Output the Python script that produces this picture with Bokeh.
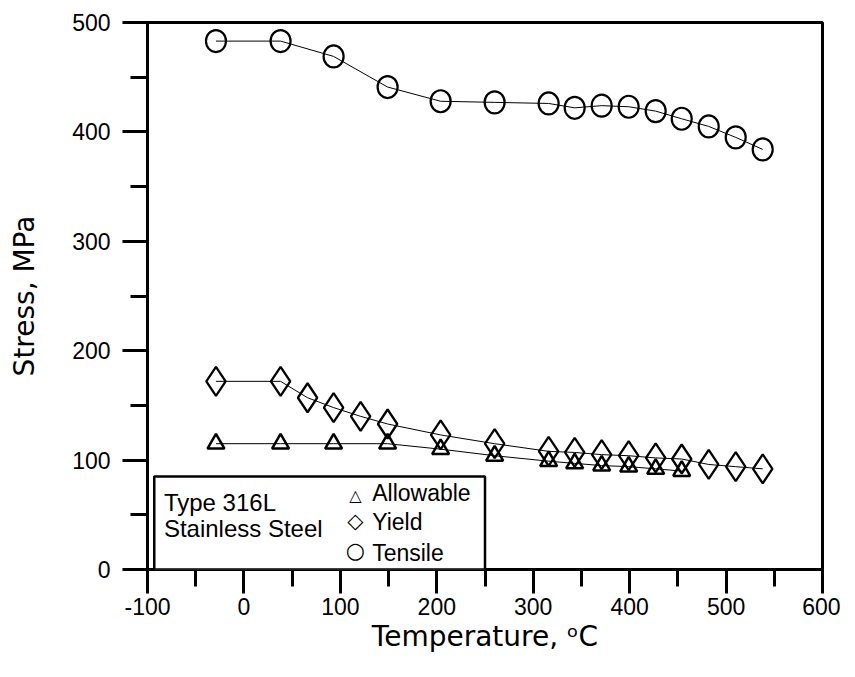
from bokeh.plotting import figure
from bokeh.models import Range1d, SingleIntervalTicker, BoxAnnotation, Label, CustomJSTickFormatter
from bokeh.embed import file_html
from bokeh.resources import INLINE

# ---- data ----
temp_tensile = [-29, 38, 93, 149, 204, 260, 316, 343, 371, 399, 427, 454, 482, 510, 538]
tensile = [483, 483, 469, 441, 428, 427, 426, 422, 424, 423, 419, 412, 405, 395, 384]

temp_yield = [-29, 38, 66, 93, 121, 149, 204, 260, 316, 343, 371, 399, 427, 454, 482, 510, 538]
yield_strength = [172, 172, 157, 148, 140, 133, 123, 115, 108, 107, 105, 104, 102, 101, 96, 94, 92]

temp_allow = [-29, 38, 93, 149, 204, 260, 316, 343, 371, 399, 427, 454]
allowable = [115, 115, 115, 115, 110, 104, 99, 97, 95, 94, 92, 90]

x_label = "Temperature, \u1d52C"
y_label = "Stress, MPa"
note_lines = ["Type 316L", "Stainless Steel"]
series_names = ["Allowable", "Yield", "Tensile"]

FONT = "Liberation Sans"
TITLE_FONT = "DejaVu Sans"

p = figure(width=840, height=662,
           x_range=Range1d(-100, 600), y_range=Range1d(0, 500),
           output_backend="svg", toolbar_location=None,
           min_border_left=147, min_border_right=18,
           min_border_top=22, min_border_bottom=93)
p.xgrid.visible = False
p.ygrid.visible = False
p.outline_line_color = "black"
p.outline_line_width = 3
p.outline_line_alpha = 1
p.background_fill_color = "white"
p.border_fill_color = "white"

for ax in (p.xaxis[0], p.yaxis[0]):
    ax.ticker = SingleIntervalTicker(interval=100, num_minor_ticks=2)
    ax.formatter = CustomJSTickFormatter(code="return tick.toFixed(0);")
    ax.major_tick_in = 0
    ax.minor_tick_in = 0
    ax.axis_line_width = 3
    ax.axis_line_color = "black"
    ax.major_tick_line_width = 3
    ax.minor_tick_line_width = 3
    ax.major_tick_line_color = "black"
    ax.minor_tick_line_color = "black"
    ax.major_label_text_font = FONT
    ax.major_label_text_font_size = "23px"
    ax.major_label_text_color = "black"
    ax.axis_label_text_font = TITLE_FONT
    ax.axis_label_text_font_size = "28px"
    ax.axis_label_text_font_style = "normal"
    ax.axis_label_text_color = "black"

p.xaxis.major_tick_out = 24
p.xaxis.minor_tick_out = 17
p.yaxis.major_tick_out = 25
p.yaxis.minor_tick_out = 17
p.xaxis.major_label_standoff = 4
p.yaxis.major_label_standoff = 12
p.xaxis.axis_label = x_label
p.yaxis.axis_label = y_label
p.xaxis.axis_label_standoff = 2
p.yaxis.axis_label_standoff = 28

# connecting lines
p.line(temp_tensile, tensile, line_color="black", line_width=1)
p.line(temp_yield, yield_strength, line_color="black", line_width=1)
p.line(temp_allow, allowable, line_color="black", line_width=1)

# markers (hollow)
p.scatter(temp_allow, allowable, marker="triangle", size=17,
          fill_color=None, line_color="black", line_width=2.5)
p.scatter(temp_yield, yield_strength, marker="diamond", size=29,
          fill_color=None, line_color="black", line_width=2.3)
p.ellipse(x=temp_tensile, y=tensile, width=20, height=22,
          width_units="screen", height_units="screen",
          fill_color=None, line_color="black", line_width=2.2)

# legend / note box
box = BoxAnnotation(left=-93, right=250, bottom=0, top=85,
                    fill_color="white", fill_alpha=1,
                    line_color="black", line_width=2.5, line_alpha=1)
p.add_layout(box)

note_y = [61, 37.5]
for t, ty in zip(note_lines, note_y):
    p.add_layout(Label(x=-83, y=ty, text=t, text_font=FONT,
                       text_font_size="24px", text_baseline="middle",
                       text_color="black"))

symbols = ["\u25b3", "\u25c7", "\u25cb"]
sym_sizes = ["16px", "21px", "22px"]
sym_y = [67.6, 44, 17.4]
text_y = [69.5, 43, 15.5]
for s, ss, sy, name, ty in zip(symbols, sym_sizes, sym_y, series_names, text_y):
    p.add_layout(Label(x=115.5, y=sy, text=s, text_font="DejaVu Sans",
                       text_font_size=ss, text_align="center",
                       text_baseline="middle", text_color="black"))
    p.add_layout(Label(x=133, y=ty, text=name, text_font=FONT,
                       text_font_size="23px", text_baseline="middle",
                       text_color="black"))

open("out.html", "w").write(file_html(p, INLINE))
